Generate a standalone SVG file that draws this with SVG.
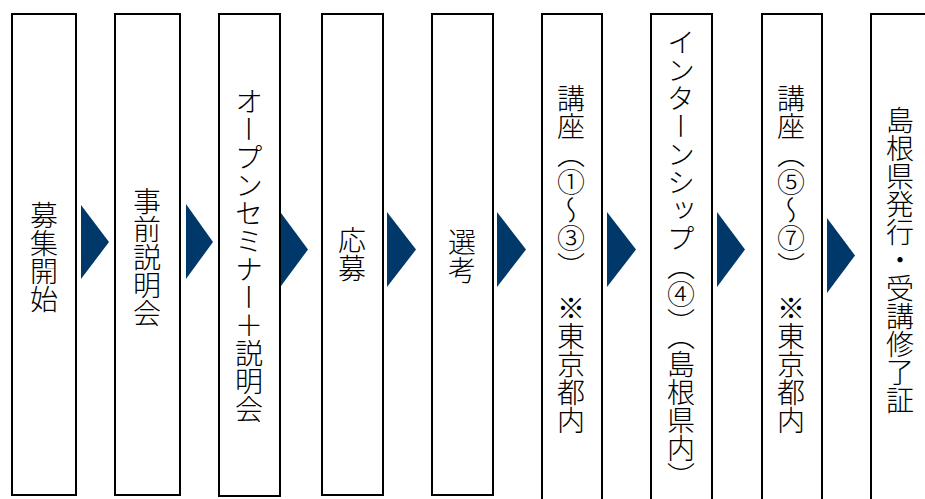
<svg xmlns="http://www.w3.org/2000/svg" width="925" height="499" viewBox="0 0 925 499">
<style>
.box{fill:#fff;stroke:#000;stroke-width:2}
.arr{fill:#00386A}
.t{font-family:"Noto Sans CJK JP","Noto Sans CJK SC",sans-serif;font-size:28px;font-weight:300;fill:#000;writing-mode:vertical-rl;text-anchor:middle}
</style>
<rect width="925" height="499" fill="#fff"/>
<g id="connectors">
<polygon class="arr" points="81,205 109,242 81,279"/>
<polygon class="arr" points="186,204 213,242 186,279"/>
<polygon class="arr" points="281,213 308,249.5 281,286"/>
<polygon class="arr" points="387,212 416,249.5 387,287"/>
<polygon class="arr" points="497,212 526,249.5 497,287"/>
<polygon class="arr" points="607,212 636,249.5 607,287"/>
<polygon class="arr" points="717,212 745,249.5 717,287"/>
<polygon class="arr" points="827,218 855,255.5 827,293"/>
</g>
<g id="n1"><rect class="box" x="12" y="14" width="64" height="481"/><text class="t" x="44" y="257">募集開始</text></g>
<g id="n2"><rect class="box" x="115" y="14" width="65" height="481"/><text class="t" x="147" y="257">事前説明会</text></g>
<g id="n3"><rect class="box" x="219" y="14" width="61" height="482"/><text class="t" x="249" y="255">オープンセミナー＋説明会</text></g>
<g id="n4"><rect class="box" x="322" y="14" width="61" height="481"/><text class="t" x="352" y="254">応募</text></g>
<g id="n5"><rect class="box" x="432" y="14" width="61" height="481"/><text class="t" x="462" y="256">選考</text></g>
<g id="n6"><rect class="box" x="542" y="14" width="60" height="500"/><text class="t" x="571" y="259">講座（①～③）　※東京都内</text></g>
<g id="n7"><rect class="box" x="651" y="14" width="61" height="500"/><text class="t" x="681" y="259">インターンシップ（④）（島根県内）</text></g>
<g id="n8"><rect class="box" x="762" y="14" width="60" height="500"/><text class="t" x="791" y="259">講座（⑤～⑦）　※東京都内</text></g>
<g id="n9"><rect class="box" x="871" y="14" width="60" height="500"/><text class="t" x="900" y="260">島根県発行・受講修了証</text></g>
</svg>
